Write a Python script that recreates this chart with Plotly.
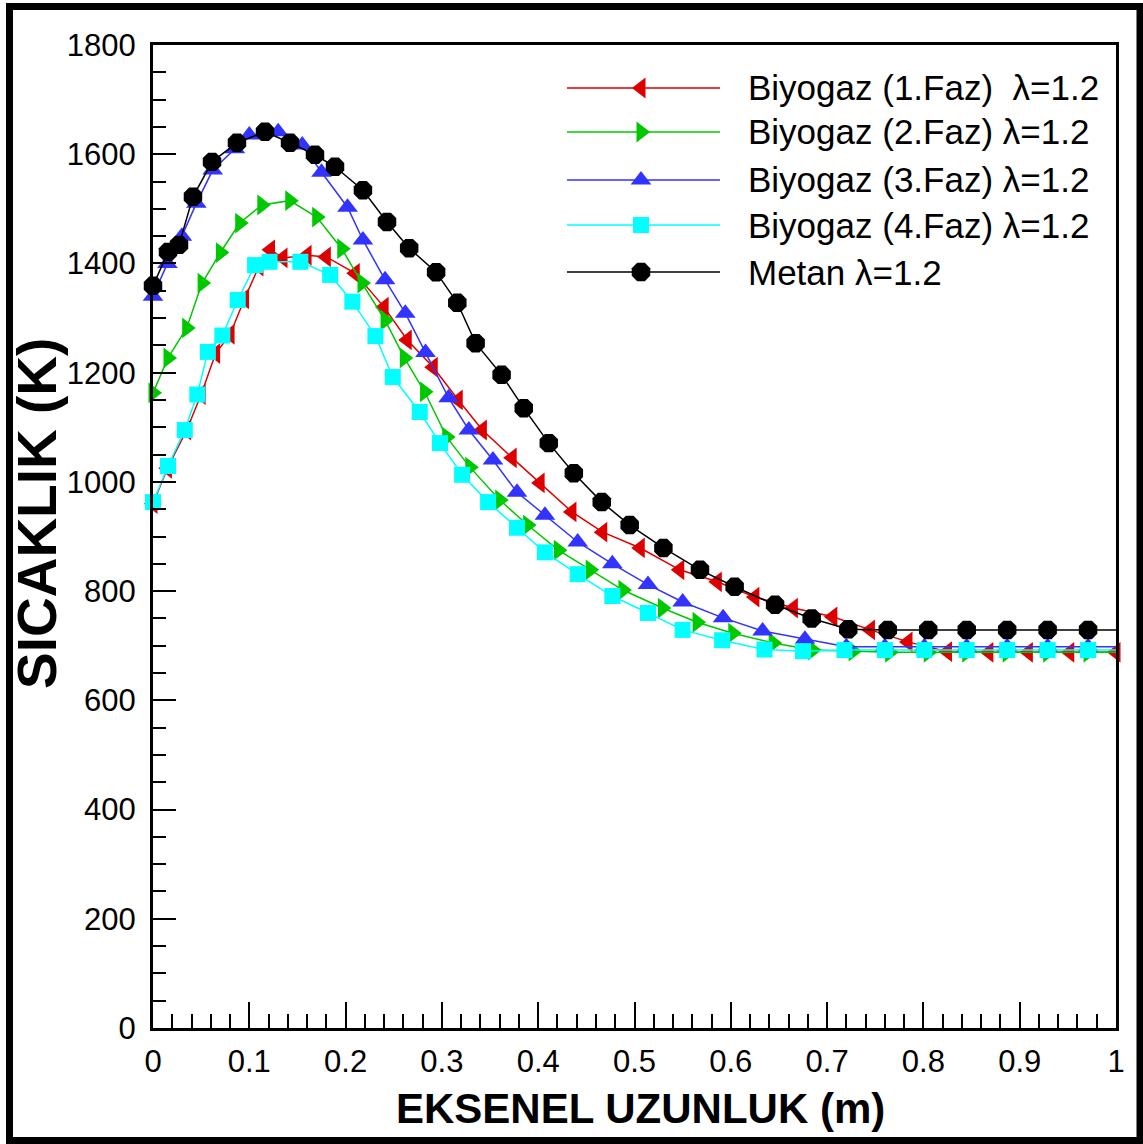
import plotly.graph_objects as go

# ---------------- data ----------------
x_bio1 = [0.0, 0.015, 0.035, 0.05, 0.065, 0.08, 0.095, 0.11, 0.122, 0.135, 0.16, 0.18, 0.21, 0.24,
          0.264, 0.291, 0.317, 0.342, 0.373, 0.402, 0.435, 0.467, 0.506, 0.547, 0.586, 0.625,
          0.665, 0.706, 0.745, 0.784, 0.825, 0.868, 0.909, 0.952, 1.0]
y_bio1 = [960, 1025, 1095, 1160, 1235, 1270, 1335, 1395, 1425, 1410, 1415, 1412, 1382, 1320,
          1260, 1210, 1150, 1095, 1044, 998, 945, 908, 879, 839, 817, 789,
          769, 753, 729, 707, 689, 688, 688, 688, 688]

x_bio2 = [0.0, 0.0156, 0.035, 0.051, 0.07, 0.09, 0.113, 0.142, 0.17, 0.196, 0.217, 0.241, 0.261,
          0.282, 0.305, 0.329, 0.36, 0.389, 0.421, 0.454, 0.488, 0.529, 0.565, 0.602, 0.644,
          0.685, 0.727, 0.765, 0.805, 0.845, 0.887, 0.929, 0.971, 1.0]
y_bio2 = [1163, 1227, 1282, 1364, 1420, 1474, 1507, 1515, 1485, 1427, 1364, 1296, 1227,
          1165, 1082, 1027, 967, 921, 875, 839, 802, 769, 743, 723, 705,
          692, 690, 688, 688, 688, 688, 688, 688, 688]

x_bio3 = [0.0, 0.015, 0.03, 0.045, 0.062, 0.085, 0.1, 0.13, 0.155, 0.175, 0.202, 0.218, 0.241,
          0.262, 0.283, 0.307, 0.328, 0.353, 0.378, 0.407, 0.441, 0.477, 0.514, 0.55, 0.592,
          0.633, 0.677, 0.72, 0.76, 0.801, 0.845, 0.887, 0.929, 0.971, 1.0]
y_bio3 = [1340, 1400, 1450, 1510, 1571, 1610, 1635, 1641, 1617, 1567, 1503, 1443, 1370,
          1309, 1237, 1154, 1095, 1040, 981, 939, 890, 850, 812, 780, 751,
          727, 712, 698, 698, 698, 698, 698, 698, 698, 698]

x_bio4 = [0.0, 0.0156, 0.033, 0.046, 0.057, 0.072, 0.088, 0.106, 0.121, 0.153, 0.184, 0.207, 0.231,
          0.249, 0.277, 0.298, 0.321, 0.348, 0.378, 0.407, 0.441, 0.477, 0.514, 0.55, 0.591,
          0.635, 0.675, 0.718, 0.76, 0.801, 0.845, 0.887, 0.929, 0.971, 1.0]
y_bio4 = [963, 1029, 1095, 1160, 1238, 1268, 1333, 1397, 1403, 1403, 1379, 1330, 1267,
          1192, 1128, 1071, 1013, 963, 916, 871, 831, 791, 760, 729, 710,
          693, 690, 692, 692, 692, 692, 692, 692, 692, 692]

x_metan = [0.0, 0.0156, 0.027, 0.0415, 0.0613, 0.0872, 0.1163, 0.1423, 0.1682, 0.189, 0.218, 0.243,
           0.266, 0.294, 0.316, 0.335, 0.362, 0.385, 0.411, 0.437, 0.466, 0.495, 0.53, 0.568,
           0.604, 0.646, 0.684, 0.722, 0.763, 0.805, 0.845, 0.887, 0.929, 0.971, 1.0]
y_metan = [1359, 1421, 1434, 1522, 1586, 1621, 1641, 1621, 1599, 1577, 1534, 1476,
           1428, 1384, 1328, 1254, 1196, 1135, 1071, 1016, 963, 921, 879, 839,
           808, 775, 750, 730, 729, 729, 729, 729, 729, 729, 729]

series_names = ["Biyogaz (1.Faz)  λ=1.2", "Biyogaz (2.Faz) λ=1.2", "Biyogaz (3.Faz) λ=1.2",
                "Biyogaz (4.Faz) λ=1.2", "Metan λ=1.2"]
x_ticks = [0, 0.1, 0.2, 0.3, 0.4, 0.5, 0.6, 0.7, 0.8, 0.9, 1]
x_tick_labels = ["0", "0.1", "0.2", "0.3", "0.4", "0.5", "0.6", "0.7", "0.8", "0.9", "1"]
y_ticks = [0, 200, 400, 600, 800, 1000, 1200, 1400, 1600, 1800]

# ---------------- styling ----------------
W, H = 1143, 1144
ML, MR, MT, MB = 153, 27, 45, 116
PW, PH = W - ML - MR, H - MT - MB
FONT = "Liberation Sans, Arial, sans-serif"

styles = [
    dict(color="#dd0000", symbol="triangle-left", size=18, last_marker=True),
    dict(color="#00c800", symbol="triangle-right", size=18, last_marker=False),
    dict(color="#3333ff", symbol="triangle-up", size=18, last_marker=False),
    dict(color="#00ffff", symbol="square", size=16, last_marker=False),
    dict(color="#000000", symbol="octagon", size=20, last_marker=False),
]
xs = [x_bio1, x_bio2, x_bio3, x_bio4, x_metan]
ys = [y_bio1, y_bio2, y_bio3, y_bio4, y_metan]


def pp(px, py):
    """pixel -> paper coords"""
    return (px - ML) / PW, (H - MB - py) / PH


fig = go.Figure()
for name, x, y, st in zip(series_names, xs, ys, styles):
    sizes = [st["size"]] * len(x)
    if not st["last_marker"]:
        sizes[-1] = 0
    fig.add_trace(go.Scatter(
        x=x, y=y, name=name, mode="lines+markers", cliponaxis=False, showlegend=False,
        line=dict(color=st["color"], width=1.5),
        marker=dict(symbol=st["symbol"], size=sizes, color=st["color"], opacity=1,
                    line=dict(width=0)),
    ))

# custom legend (long sample lines like the original) on an overlay axis in paper-like units
leg_rows_px = [88, 132, 180, 225, 272]
leg_x0_px, leg_x1_px, leg_mk_px, leg_txt_px = 567, 720, 641, 746
annotations = []
for name, st, rpx in zip(series_names, styles, leg_rows_px):
    lx0, ly = pp(leg_x0_px, rpx)
    lx1, _ = pp(leg_x1_px, rpx)
    lmk, _ = pp(leg_mk_px, rpx)
    fig.add_trace(go.Scatter(
        x=[lx0, lmk, lx1], y=[ly, ly, ly], xaxis="x2", yaxis="y2", mode="lines+markers",
        showlegend=False, hoverinfo="skip", cliponaxis=False,
        line=dict(color=st["color"], width=1.5),
        marker=dict(symbol=st["symbol"], size=[0, st["size"], 0], color=st["color"], opacity=1,
                    line=dict(width=0)),
    ))
    tx, _ = pp(leg_txt_px, rpx)
    annotations.append(dict(x=tx, y=ly, xref="paper", yref="paper", text=name, showarrow=False,
                            xanchor="left", yanchor="middle",
                            font=dict(family=FONT, size=35, color="black")))

# axis titles
tx, ty = pp(640, 1108)
annotations.append(dict(x=tx, y=ty, xref="paper", yref="paper", text="<b>EKSENEL UZUNLUK (m)</b>",
                        showarrow=False, xanchor="center", yanchor="middle",
                        font=dict(family=FONT, size=42, color="black")))
tx, ty = pp(37, 514)
annotations.append(dict(x=tx, y=ty, xref="paper", yref="paper", text="<b>SICAKLIK (K)</b>",
                        showarrow=False, xanchor="center", yanchor="middle", textangle=-90,
                        font=dict(family=FONT, size=55, color="black")))

# outer frame
fx0, fy0 = pp(9.5, 1140.5)
fx1, fy1 = pp(1140, 6.5)
shapes = [dict(type="rect", xref="paper", yref="paper", x0=fx0, y0=fy0, x1=fx1, y1=fy1,
               line=dict(color="black", width=7), layer="above")]

axis_common = dict(showgrid=False, zeroline=False, showline=True, linecolor="black", linewidth=3,
                   mirror=True, ticks="inside", tickcolor="black", tickwidth=2,
                   tickfont=dict(family=FONT, size=31, color="black"))

fig.update_layout(
    width=W, height=H, margin=dict(l=ML, r=MR, t=MT, b=MB, autoexpand=False),
    paper_bgcolor="white", plot_bgcolor="white", showlegend=False,
    xaxis=dict(range=[0, 1], tickvals=x_ticks, ticktext=x_tick_labels, ticklen=26,
               minor=dict(dtick=0.02, ticks="inside", ticklen=14, tickwidth=1.5, tickcolor="black"),
               ticklabelstandoff=4, **axis_common),
    yaxis=dict(range=[0, 1800], tickvals=y_ticks, ticklen=23,
               minor=dict(dtick=50, ticks="inside", ticklen=13, tickwidth=1.5, tickcolor="black"),
               ticklabelstandoff=8, **axis_common),
    xaxis2=dict(range=[0, 1], overlaying="x", visible=False, fixedrange=True),
    yaxis2=dict(range=[0, 1], overlaying="y", visible=False, fixedrange=True),
    annotations=annotations, shapes=shapes,
)

fig.write_html("out.html")
